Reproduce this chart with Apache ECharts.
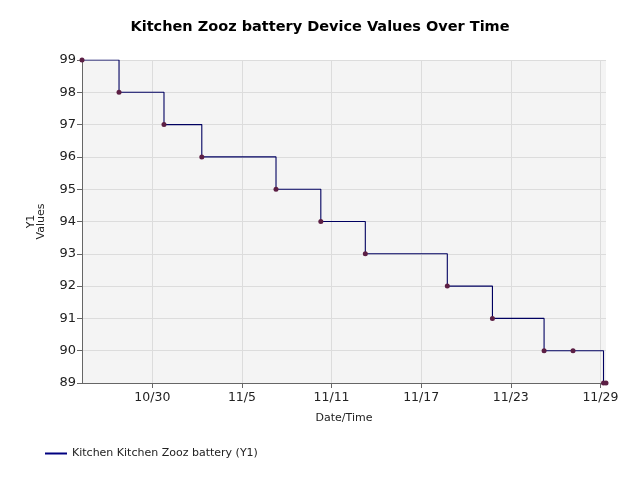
<!DOCTYPE html>
<html>
<head>
<meta charset="utf-8">
<script src="https://cdn.jsdelivr.net/npm/echarts@6/dist/echarts.min.js"></script>
<style>html,body{margin:0;padding:0;background:#fff}#c{width:640px;height:480px}</style>
</head>
<body>
<div id="c"></div>
<script>
// Data (year assumed)
var times = [
  '2023-10-25T07:00', '2023-10-27T18:30', '2023-10-30T18:45', '2023-11-02T07:30',
  '2023-11-07T06:45', '2023-11-10T06:45', '2023-11-13T06:15', '2023-11-18T18:00',
  '2023-11-21T18:30', '2023-11-25T05:30', '2023-11-27T04:00', '2023-11-29T05:00',
  '2023-11-29T09:00'
];
var values = [99, 98, 97, 96, 95, 94, 93, 92, 91, 90, 90, 89, 89];
var xTickDates = ['2023-10-30', '2023-11-05', '2023-11-11', '2023-11-17', '2023-11-23', '2023-11-29'];
var yTicks = [89, 90, 91, 92, 93, 94, 95, 96, 97, 98, 99];
var seriesName = 'Kitchen Kitchen Zooz battery (Y1)';
var titleText = 'Kitchen Zooz battery Device Values Over Time';

function toUTC(s) {
  var p = s.split('T');
  var d = p[0].split('-').map(Number);
  var t = p[1] ? p[1].split(':').map(Number) : [0, 0];
  return Date.UTC(d[0], d[1] - 1, d[2], t[0], t[1]);
}
var ts = times.map(toUTC);
var xTicks = xTickDates.map(toUTC);
var data = ts.map(function (t, i) { return [t, values[i]]; });

var font = 'DejaVu Sans';
var chart = echarts.init(document.getElementById('c'), null, { renderer: 'canvas' });
chart.setOption({
  animation: false,
  backgroundColor: '#ffffff',
  title: {
    text: titleText, left: 'center', top: 15,
    textStyle: { fontFamily: font, fontSize: 14.5, fontWeight: 'bold', color: '#000' }
  },
  legend: {
    left: 40, top: 443, itemWidth: 22, itemHeight: 2, icon: 'rect', itemGap: 6,
    textStyle: { fontFamily: font, fontSize: 11, color: '#222' },
    data: [{ name: seriesName, itemStyle: { color: '#000080' } }]
  },
  grid: {
    left: 82, right: 34, top: 60, bottom: 97, show: true,
    backgroundColor: '#f4f4f4', borderWidth: 0, containLabel: false
  },
  xAxis: {
    type: 'value', min: ts[0], max: ts[ts.length - 1],
    name: 'Date/Time', nameLocation: 'middle', nameGap: 30,
    nameTextStyle: { fontFamily: font, fontSize: 11, color: '#222' },
    axisLine: { show: true, onZero: false, lineStyle: { color: '#666', width: 1 } },
    axisTick: { show: true, length: 5, customValues: xTicks, lineStyle: { color: '#666' } },
    axisLabel: {
      customValues: xTicks, fontFamily: font, fontSize: 12.5, color: '#222', margin: 8,
      showMinLabel: true, showMaxLabel: true,
      formatter: function (v) { var d = new Date(v); return (d.getUTCMonth() + 1) + '/' + d.getUTCDate(); }
    },
    splitLine: { show: false }
  },
  yAxis: {
    type: 'value', min: 89, max: 99, interval: 1,
    name: 'Y1\nValues', nameLocation: 'middle', nameGap: 36, nameRotate: 90,
    nameTextStyle: { fontFamily: font, fontSize: 11, color: '#222', lineHeight: 10 },
    axisLine: { show: true, lineStyle: { color: '#666', width: 1 } },
    axisTick: { show: true, length: 5, lineStyle: { color: '#666' } },
    axisLabel: { fontFamily: font, fontSize: 13, color: '#222', margin: 6 },
    splitLine: { show: true, lineStyle: { color: '#dcdcdc', width: 1 } }
  },
  series: [{
    name: seriesName, type: 'line', step: 'end', data: data,
    symbol: 'circle', symbolSize: 5,
    lineStyle: { color: '#000060', width: 1.1 },
    itemStyle: { color: '#5c1f44' },
    markLine: {
      silent: true, symbol: 'none', label: { show: false },
      lineStyle: { color: '#dcdcdc', width: 1, type: 'solid' },
      z: 1,
      data: xTicks.map(function (t) { return { xAxis: t }; })
    }
  }]
});
</script>
</body>
</html>
